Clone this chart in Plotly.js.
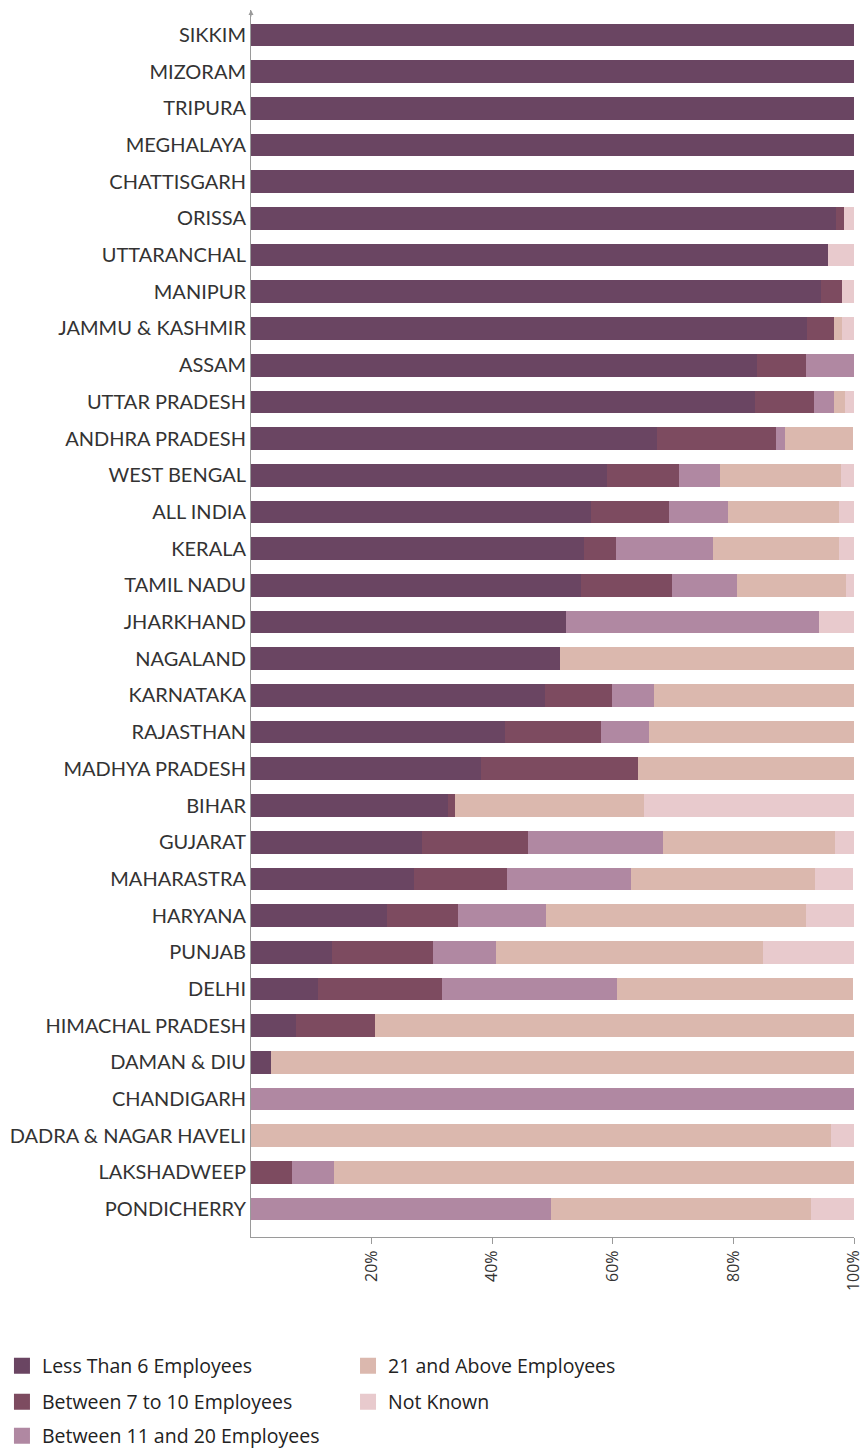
<!DOCTYPE html>
<html>
<head>
<meta charset="utf-8">
<script src="https://cdn.plot.ly/plotly-3.0.1.min.js"></script>
<style>html,body{margin:0;padding:0;background:#fff;}#chart{width:865px;height:1450px;}</style>
</head>
<body>
<div id="chart"></div>
<script>
const states = ["SIKKIM","MIZORAM","TRIPURA","MEGHALAYA","CHATTISGARH","ORISSA","UTTARANCHAL","MANIPUR","JAMMU & KASHMIR","ASSAM","UTTAR PRADESH","ANDHRA PRADESH","WEST BENGAL","ALL INDIA","KERALA","TAMIL NADU","JHARKHAND","NAGALAND","KARNATAKA","RAJASTHAN","MADHYA PRADESH","BIHAR","GUJARAT","MAHARASTRA","HARYANA","PUNJAB","DELHI","HIMACHAL PRADESH","DAMAN & DIU","CHANDIGARH","DADRA & NAGAR HAVELI","LAKSHADWEEP","PONDICHERRY"];
const lessThan6 = [100,100,100,100,100,97.0,95.7,94.6,92.2,83.9,83.6,67.3,59.0,56.4,55.2,54.8,52.2,51.2,48.7,42.1,38.2,32.6,28.4,27.1,22.5,13.4,11.1,7.5,3.3,0,0,0,0];
const between7to10 = [0,0,0,0,0,1.3,0,3.4,4.5,8.2,9.8,19.8,11.9,12.9,5.3,15.0,0,0,11.1,15.9,26.0,1.3,17.6,15.3,11.9,16.7,20.6,13.0,0,0,0,6.8,0];
const between11to20 = [0,0,0,0,0,0,0,0,0,7.9,3.2,1.4,6.8,9.8,16.1,10.8,42.0,0,7.0,8.0,0,0,22.3,20.6,14.6,10.6,29.0,0,0,100,0,7.0,49.7];
const above21 = [0,0,0,0,0,0,0,0,1.3,0,1.9,11.4,20.2,18.4,20.9,18.1,0,48.8,33.2,34.0,35.8,31.3,28.6,30.6,43.1,44.2,39.2,79.5,96.7,0,96.2,86.2,43.2];
const notKnown = [0,0,0,0,0,1.7,4.3,2.0,2.0,0,1.5,0,2.1,2.5,2.5,1.3,5.8,0,0,0,0,34.8,3.1,6.3,7.9,15.1,0,0,0,0,3.8,0,7.1];
const seriesNames = ["Less Than 6 Employees","Between 7 to 10 Employees","Between 11 and 20 Employees","21 and Above Employees","Not Known"];
const xTickVals = [20,40,60,80,100];
const xTickText = ["20%","40%","60%","80%","100%"];

const colors = ["#6a4562","#7d4b60","#b088a2","#dbb8ae","#e8cacd"];
const legendIds = ["legend","legend2","legend3","legend4","legend5"];
const seriesVals = [lessThan6,between7to10,between11to20,above21,notKnown];

const data = seriesVals.map((vals,i)=>({
  type:"bar", orientation:"h", y:states, x:vals, name:seriesNames[i],
  marker:{color:colors[i], line:{width:0}}, showlegend:false, hoverinfo:"skip"
}));
// legend-only entries (square swatches)
seriesNames.forEach((nm,i)=>{
  data.push({type:"scatter", mode:"markers", x:[null], y:[null], name:nm,
    marker:{symbol:"square", size:16, color:colors[i]}, legend:legendIds[i], hoverinfo:"skip"});
});

const legFont = {family:"'Open Sans', sans-serif", size:19.5, color:"#222"};
const col1 = -0.413, col2 = 0.1609;
const rowY = [-0.1051,-0.1345,-0.1622];
function leg(x,y){return {x:x, y:y, xanchor:"left", yanchor:"middle", font:legFont, bgcolor:"rgba(0,0,0,0)", itemclick:false, itemdoubleclick:false};}

const layout = {
  width:865, height:1450,
  margin:{l:251, r:11, t:10, b:213, autoexpand:false},
  paper_bgcolor:"#fff", plot_bgcolor:"#fff",
  barmode:"stack", bargap:0.38,
  font:{family:"Lato, 'Open Sans', sans-serif", color:"#333", size:18},
  xaxis:{range:[0,100], tickvals:xTickVals, ticktext:xTickText, tickangle:-90,
    showgrid:false, zeroline:false, showline:true, linecolor:"#9a9a9a", linewidth:1,
    ticks:"outside", ticklen:6, tickcolor:"#9a9a9a", tickfont:{family:"'Open Sans', sans-serif", size:16, color:"#333"}},
  yaxis:{type:"category", range:[32.76,-0.68], showgrid:false, zeroline:false, showline:true,
    linecolor:"#9a9a9a", linewidth:1, ticks:"", ticklabelstandoff:0, tickfont:{family:"Lato, sans-serif", size:20, color:"#333"}},
  showlegend:true,
  legend:leg(col1,rowY[0]),
  legend2:leg(col1,rowY[1]),
  legend3:leg(col1,rowY[2]),
  legend4:leg(col2,rowY[0]),
  legend5:leg(col2,rowY[1]),
  annotations:[{xref:"paper", yref:"paper", x:0, y:1, ax:0, ay:8, text:"", showarrow:true,
    arrowhead:2, arrowsize:1, arrowwidth:1, arrowcolor:"#9a9a9a", standoff:0}]
};
Plotly.newPlot("chart", data, layout, {displayModeBar:false, staticPlot:true});
</script>
</body>
</html>
